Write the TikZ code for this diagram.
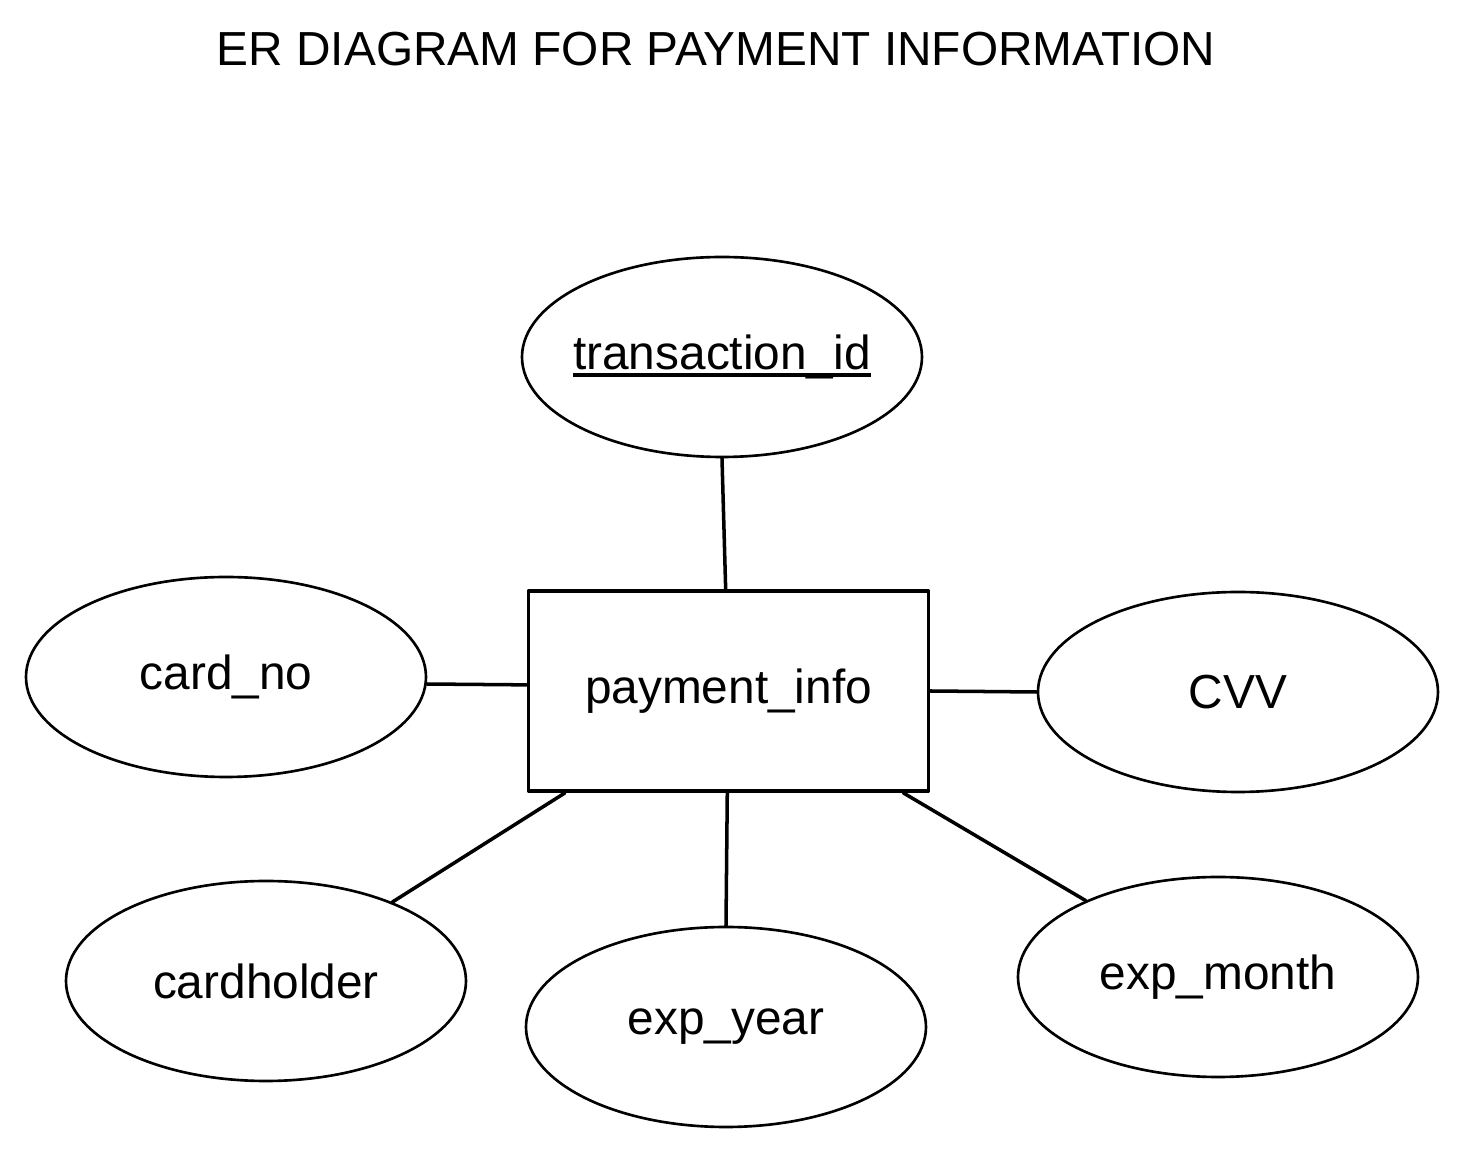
\documentclass[tikz,border=0pt]{standalone}
\usepackage{fontspec}
\setmainfont{Liberation Sans}
\usetikzlibrary{positioning}
\usetikzlibrary{shapes.geometric}
\usetikzlibrary{calc}
\newcommand{\pkey}[1]{\setbox0\hbox{#1}\rlap{\vrule width\wd0 height -1.1pt depth 2.1pt}\box0}
\tikzstyle{every node}=[font=\fontsize{13.6}{16}\selectfont]
\tikzstyle{every path}=[line cap=round,line join=round]
\tikzstyle{attr}=[draw,ellipse,line width=0.75pt,minimum width=4cm,minimum height=2cm,inner sep=0pt]
\tikzstyle{entity}=[draw,rectangle,line width=1.1pt,minimum width=4cm,minimum height=2cm,inner sep=0pt]
\tikzstyle{link}=[line width=1pt]
\begin{document}
\begin{tikzpicture}
  \useasboundingbox (0,0) rectangle (14.68,11.54);
  \node (title) at (7.16,11.05) {ER DIAGRAM FOR PAYMENT INFORMATION};
  \node[entity] (pay) at (7.285,4.63) {payment\_info};
  \node[attr] (tid) at (7.22,7.97) {\makebox[0pt]{\pkey{transaction\_id}}};
  \node[attr] (cardno) at (2.26,4.77) {card\_no};
  \node[attr] (cvv) at (12.38,4.62) {CVV};
  \node[attr] (holder) at (2.66,1.73) {cardholder};
  \node[attr] (year) at (7.26,1.27) {exp\_year};
  \node[attr] (month) at (12.18,1.77) {exp\_month};
  % connectors
  \draw[link] (tid.south) -- ($(pay.north west)!0.493!(pay.north east)$);
  \draw[link] (cardno.-2) -- ($(pay.north west)!0.47!(pay.south west)$);
  \draw[link] (pay.east) -- (cvv.west);
  \draw[link] ($(pay.south west)!0.095!(pay.south east)$) -- (holder.32);
  \draw[link] ($(pay.south west)!0.497!(pay.south east)$) -- (year.north);
  \draw[link] ($(pay.south west)!0.933!(pay.south east)$) -- (month.150);
\end{tikzpicture}
\end{document}
